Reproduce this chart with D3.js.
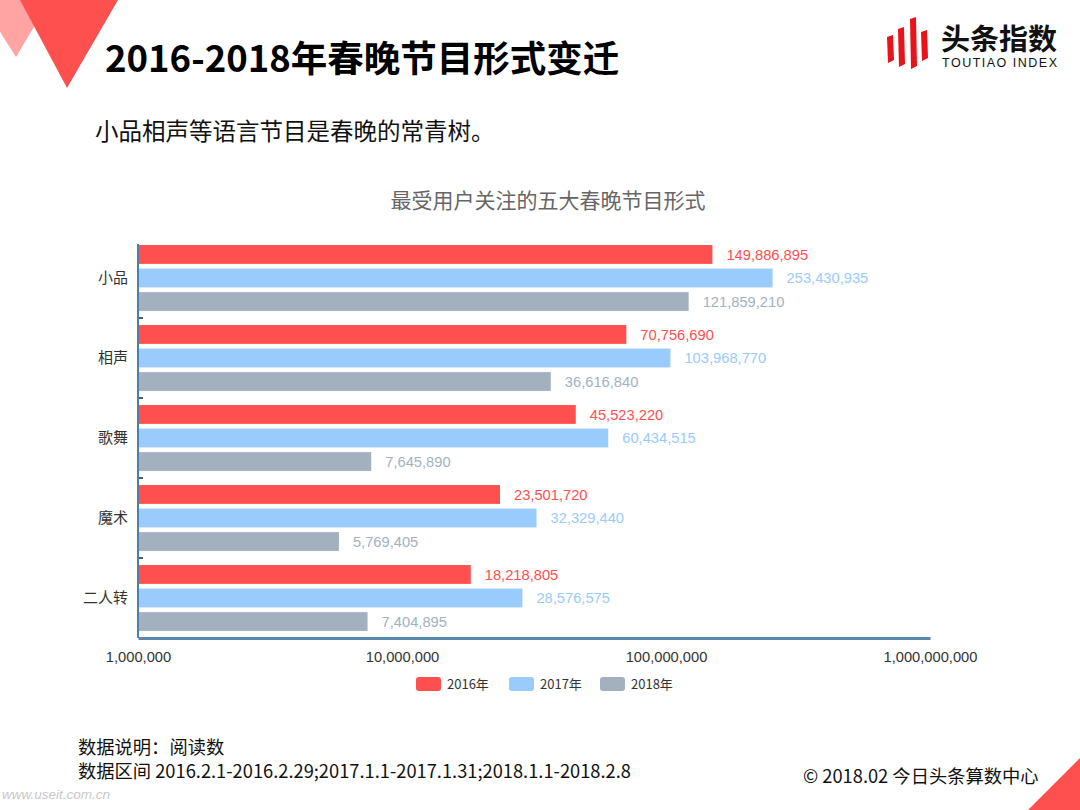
<!DOCTYPE html>
<html>
<head>
<meta charset="utf-8">
<script src="https://cdn.jsdelivr.net/npm/d3@7"></script>
<style>
body { margin: 0; background: #fff; }
svg { display: block; font-family: "Liberation Sans", Arial, "Noto Sans CJK SC", sans-serif; }
</style>
</head>
<body>
<div id="graph"></div>
<script>
let categories = ["小品", "相声", "歌舞", "魔术", "二人转"];
let seriesNames = ["2016年", "2017年", "2018年"];
let values2016 = [149886895, 70756690, 45523220, 23501720, 18218805];
let values2017 = [253430935, 103968770, 60434515, 32329440, 28576575];
let values2018 = [121859210, 36616840, 7645890, 5769405, 7404895];
let xTicks = [1e6, 1e7, 1e8, 1e9];
let colors = ["#ff4f4f", "#99cbfc", "#a3b1bf"];

let width = 1080, height = 810;
let margin = {top: 238, right: 150, bottom: 172, left: 138};

let svg = d3.select("#graph").append("svg")
    .attr("width", width)
    .attr("height", height);

// header decorations
svg.append("path").attr("d", "M-20,0 L50,0 L16,57 Z").attr("fill", "#ffa3a3");
svg.append("path").attr("d", "M20,0 L118,0 L67,88 Z").attr("fill", "#ff5050");
svg.append("path").attr("d", "M1028,810 L1080,758 L1080,810 Z").attr("fill", "#ff5050");

svg.append("text")
    .attr("x", 105).attr("y", 72)
    .attr("font-size", 36.5).attr("font-weight", "bold")
    .attr("font-family", "'Noto Sans CJK SC', sans-serif")
    .attr("fill", "#000")
    .text("2016-2018年春晚节目形式变迁");

svg.append("text")
    .attr("x", 95).attr("y", 140)
    .attr("font-size", 23.5)
    .attr("font-family", "'Noto Sans CJK SC', sans-serif")
    .attr("fill", "#111")
    .text("小品相声等语言节目是春晚的常青树。");

// logo
let logo = svg.append("g").attr("fill", "#e8131b");
[[887, 37, 60], [898, 29, 64], [910, 19, 66], [921, 32, 58]].forEach(b => {
    logo.append("path")
        .attr("d", `M${b[0]},${b[1]} L${b[0] + 6},${b[1] - 2} L${b[0] + 7},${b[2]} L${b[0] + 1},${b[2] + 3} Z`);
});
svg.append("text")
    .attr("x", 941).attr("y", 50)
    .attr("font-size", 29).attr("font-weight", "bold")
    .attr("font-family", "'Noto Sans CJK SC', sans-serif")
    .attr("fill", "#111")
    .text("头条指数");
svg.append("text")
    .attr("x", 942).attr("y", 67)
    .attr("font-size", 12.5).attr("letter-spacing", 1.5)
    .attr("fill", "#111")
    .text("TOUTIAO  INDEX");

// chart
let x = d3.scaleLog()
    .domain([1e6, 1e9])
    .range([margin.left, width - margin.right]);

let y = d3.scaleBand()
    .domain(categories)
    .range([margin.top, height - margin.bottom]);

let yInner = d3.scaleBand()
    .domain(seriesNames)
    .range([0, y.bandwidth()])
    .paddingInner(0.2)
    .paddingOuter(0.3);

let allSeries = [values2016, values2017, values2018];

svg.append("text")
    .attr("x", 548).attr("y", 208)
    .attr("text-anchor", "middle")
    .attr("font-size", 21)
    .attr("font-family", "'Noto Sans CJK SC', sans-serif")
    .attr("fill", "#666")
    .text("最受用户关注的五大春晚节目形式");

let groups = svg.selectAll(".group")
    .data(categories)
    .enter().append("g")
    .attr("class", "group")
    .attr("transform", d => "translate(0," + y(d) + ")");

seriesNames.forEach((s, si) => {
    groups.append("rect")
        .attr("x", x(1e6))
        .attr("y", yInner(s))
        .attr("width", (d, i) => x(allSeries[si][i]) - x(1e6))
        .attr("height", yInner.bandwidth())
        .attr("fill", colors[si]);

    groups.append("text")
        .attr("x", (d, i) => x(allSeries[si][i]) + 14)
        .attr("y", yInner(s) + yInner.bandwidth() / 2)
        .attr("dy", ".35em")
        .attr("font-size", 14.7)
        .attr("fill", colors[si])
        .text((d, i) => d3.format(",")(allSeries[si][i]));
});

// y axis
let yAxis = svg.append("g").attr("transform", "translate(" + margin.left + ",0)");
yAxis.append("line")
    .attr("y1", margin.top + 6).attr("y2", height - margin.bottom)
    .attr("stroke", "#4f7fa8").attr("stroke-width", 2);
yAxis.selectAll(".cat")
    .data(categories)
    .enter().append("text")
    .attr("x", -10)
    .attr("y", d => y(d) + y.bandwidth() / 2)
    .attr("dy", ".35em")
    .attr("text-anchor", "end")
    .attr("font-size", 15)
    .attr("font-family", "'Noto Sans CJK SC', sans-serif")
    .attr("fill", "#333")
    .text(d => d);
yAxis.selectAll(".tk")
    .data(categories.slice(1))
    .enter().append("line")
    .attr("x1", 1).attr("x2", 5)
    .attr("y1", d => y(d)).attr("y2", d => y(d))
    .attr("stroke", "#222").attr("stroke-width", 1.5);

// x axis
let xAxis = svg.append("g")
    .attr("transform", "translate(0," + (height - margin.bottom) + ")")
    .call(d3.axisBottom(x).tickValues(xTicks).tickFormat(d3.format(",")).tickSize(0).tickPadding(14));
xAxis.select(".domain").attr("stroke", "#5a88ad").attr("stroke-width", 3);
xAxis.selectAll("text")
    .attr("font-size", 14.7)
    .attr("font-family", "'Liberation Sans', Arial, sans-serif")
    .attr("fill", "#333");

// legend
let legend = svg.append("g").attr("transform", "translate(416,677)");
let legendX = [0, 93, 184];
seriesNames.forEach((s, i) => {
    legend.append("rect")
        .attr("x", legendX[i]).attr("y", 0)
        .attr("width", 25).attr("height", 14).attr("rx", 3)
        .attr("fill", colors[i]);
    legend.append("text")
        .attr("x", legendX[i] + 31).attr("y", 7)
        .attr("dy", ".35em")
        .attr("font-size", 13)
        .attr("font-family", "'Noto Sans CJK SC', sans-serif")
        .attr("fill", "#333")
        .text(s);
});

// footer
let foot = svg.append("g")
    .attr("font-family", "'Noto Sans CJK SC', sans-serif")
    .attr("font-size", 18.3)
    .attr("fill", "#111");
foot.append("text").attr("x", 78).attr("y", 754).text("数据说明：阅读数");
foot.append("text").attr("x", 78).attr("y", 778).text("数据区间 2016.2.1-2016.2.29;2017.1.1-2017.1.31;2018.1.1-2018.2.8");
foot.append("text").attr("x", 803).attr("y", 783).text("© 2018.02 今日头条算数中心");

svg.append("text")
    .attr("x", 2).attr("y", 799)
    .attr("font-size", 13.5).attr("font-style", "italic")
    .attr("fill", "#c8c8c8")
    .text("www.useit.com.cn");
</script>
</body>
</html>
